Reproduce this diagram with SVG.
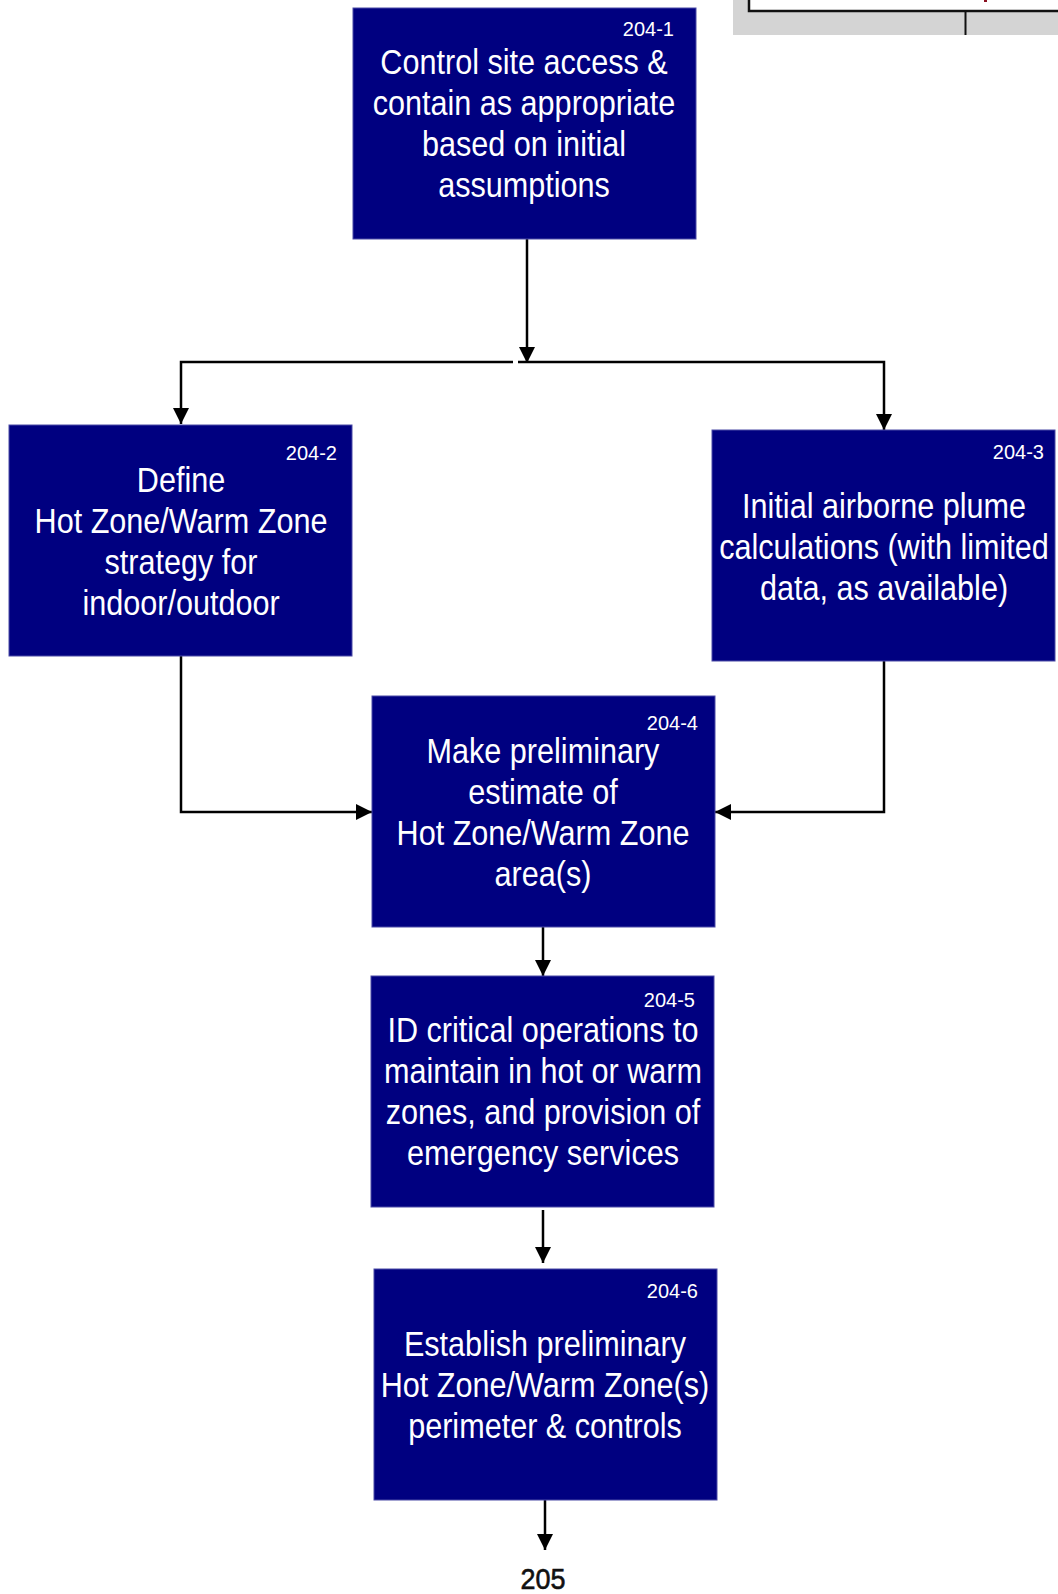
<svg xmlns="http://www.w3.org/2000/svg" width="1058" height="1594" viewBox="0 0 1058 1594">
  <style>
    .box { fill: #000080; stroke: #4a4aa6; stroke-width: 1; }
    .t { font-family: "Liberation Sans", Arial, sans-serif; font-size: 36px; fill: #ffffff; text-anchor: middle; }
    .id { font-family: "Liberation Sans", Arial, sans-serif; font-size: 20px; fill: #ffffff; text-anchor: end; }
    .conn { fill: none; stroke: #000000; stroke-width: 2.5; }
    .ref { font-family: "Liberation Sans", Arial, sans-serif; font-size: 29px; fill: #111111; stroke: #111111; stroke-width: 0.6; text-anchor: middle; }
  </style>
  <defs>
    <marker id="arrow" markerUnits="userSpaceOnUse" markerWidth="18" markerHeight="16" refX="16" refY="8" orient="auto">
      <path d="M0,0 L16,8 L0,16 Z" fill="#000000"/>
    </marker>
  </defs>

  <rect width="1058" height="1594" fill="#ffffff"/>

  <g id="partial-figure">
    <rect x="733" y="0" width="325" height="35" fill="#d4d4d4"/>
    <rect x="749" y="-4" width="320" height="15" fill="#ffffff" stroke="#111111" stroke-width="2.5"/>
    <line x1="965.5" y1="11" x2="965.5" y2="35" stroke="#111111" stroke-width="2"/>
    <rect x="984" y="0" width="3" height="2" fill="#8a1020"/>
  </g>

  <g id="connectors">
    <line class="conn" x1="527" y1="239" x2="527" y2="363" marker-end="url(#arrow)"/>
    <polyline class="conn" points="513,362 181,362 181,424" marker-end="url(#arrow)"/>
    <polyline class="conn" points="518,362 884,362 884,430" marker-end="url(#arrow)"/>
    <polyline class="conn" points="181,656 181,812 372,812" marker-end="url(#arrow)"/>
    <polyline class="conn" points="884,661 884,812 715,812" marker-end="url(#arrow)"/>
    <line class="conn" x1="543" y1="927" x2="543" y2="976" marker-end="url(#arrow)"/>
    <line class="conn" x1="543" y1="1210" x2="543" y2="1263" marker-end="url(#arrow)"/>
    <line class="conn" x1="545" y1="1500" x2="545" y2="1550" marker-end="url(#arrow)"/>
  </g>

  <g id="node-204-1">
    <rect class="box" x="353" y="8" width="343" height="231"/>
    <text class="id" x="674" y="36">204-1</text>
    <g transform="translate(524,0) scale(0.85,1)">
      <text class="t" x="0" y="74">Control site access &amp;</text>
      <text class="t" x="0" y="115">contain as appropriate</text>
      <text class="t" x="0" y="156">based on initial</text>
      <text class="t" x="0" y="197">assumptions</text>
    </g>
  </g>

  <g id="node-204-2">
    <rect class="box" x="9" y="425" width="343" height="231"/>
    <text class="id" x="337" y="460">204-2</text>
    <g transform="translate(181,0) scale(0.85,1)">
      <text class="t" x="0" y="492">Define</text>
      <text class="t" x="0" y="533">Hot Zone/Warm Zone</text>
      <text class="t" x="0" y="574">strategy for</text>
      <text class="t" x="0" y="615">indoor/outdoor</text>
    </g>
  </g>

  <g id="node-204-3">
    <rect class="box" x="712" y="430" width="343" height="231"/>
    <text class="id" x="1044" y="459">204-3</text>
    <g transform="translate(884,0) scale(0.85,1)">
      <text class="t" x="0" y="518">Initial airborne plume</text>
      <text class="t" x="0" y="559">calculations (with limited</text>
      <text class="t" x="0" y="600">data, as available)</text>
    </g>
  </g>

  <g id="node-204-4">
    <rect class="box" x="372" y="696" width="343" height="231"/>
    <text class="id" x="698" y="730">204-4</text>
    <g transform="translate(543,0) scale(0.85,1)">
      <text class="t" x="0" y="763">Make preliminary</text>
      <text class="t" x="0" y="804">estimate of</text>
      <text class="t" x="0" y="845">Hot Zone/Warm Zone</text>
      <text class="t" x="0" y="886">area(s)</text>
    </g>
  </g>

  <g id="node-204-5">
    <rect class="box" x="371" y="976" width="343" height="231"/>
    <text class="id" x="695" y="1007">204-5</text>
    <g transform="translate(543,0) scale(0.85,1)">
      <text class="t" x="0" y="1042">ID critical operations to</text>
      <text class="t" x="0" y="1083">maintain in hot or warm</text>
      <text class="t" x="0" y="1124">zones, and provision of</text>
      <text class="t" x="0" y="1165">emergency services</text>
    </g>
  </g>

  <g id="node-204-6">
    <rect class="box" x="374" y="1269" width="343" height="231"/>
    <text class="id" x="698" y="1298">204-6</text>
    <g transform="translate(545,0) scale(0.85,1)">
      <text class="t" x="0" y="1356">Establish preliminary</text>
      <text class="t" x="0" y="1397">Hot Zone/Warm Zone(s)</text>
      <text class="t" x="0" y="1438">perimeter &amp; controls</text>
    </g>
  </g>

  <g id="node-205">
    <g transform="translate(543,0) scale(0.93,1)">
      <text class="ref" x="0" y="1589">205</text>
    </g>
  </g>
</svg>
